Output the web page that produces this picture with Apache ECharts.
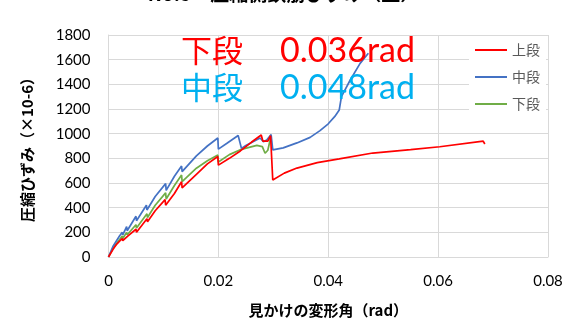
<!DOCTYPE html>
<html>
<head>
<meta charset="utf-8">
<script src="https://cdn.jsdelivr.net/npm/echarts@6/dist/echarts.min.js"></script>
<style>
  html, body { margin: 0; padding: 0; background: #fff; }
  #chart { width: 567px; height: 324px; }
</style>
</head>
<body>
<div id="chart"></div>
<script>
// 見かけの変形角 (rad) と圧縮ひずみ (×10-6) の組
const upperTier = [
  [0, 0], [0.0008, 60], [0.0015, 105], [0.0025, 150], [0.0026, 132],
  [0.0035, 170], [0.0050, 225], [0.0051, 200], [0.0070, 310], [0.0071, 285],
  [0.0085, 375], [0.0103, 465], [0.0104, 420], [0.0120, 515], [0.0133, 610],
  [0.0134, 560], [0.0160, 670], [0.0180, 755], [0.0199, 815], [0.0200, 745],
  [0.0220, 800], [0.0240, 860], [0.0260, 930], [0.0278, 989], [0.0281, 940],
  [0.0290, 940], [0.0295, 983], [0.0299, 624], [0.0320, 680], [0.0343, 721],
  [0.0380, 765], [0.0420, 795], [0.0481, 843], [0.0550, 870], [0.0603, 894],
  [0.0682, 940], [0.0685, 916]
];
const middleTier = [
  [0, 0], [0.0008, 85], [0.0020, 170], [0.0025, 200], [0.0026, 180],
  [0.0033, 246], [0.0034, 213], [0.0050, 330], [0.0051, 294], [0.0069, 420],
  [0.0070, 381], [0.0085, 490], [0.0104, 595], [0.0105, 540], [0.0120, 655],
  [0.0133, 738], [0.0134, 692], [0.0160, 820], [0.0180, 900], [0.0199, 965],
  [0.0200, 875], [0.0215, 920], [0.0236, 985], [0.0242, 881], [0.0250, 905],
  [0.0276, 965], [0.0282, 935], [0.0288, 949], [0.0296, 993], [0.0299, 868],
  [0.0318, 885], [0.0343, 925], [0.0367, 970], [0.0385, 1025], [0.0400, 1080],
  [0.0412, 1140], [0.0420, 1192], [0.0424, 1300], [0.0440, 1435], [0.0458, 1570],
  [0.0473, 1652]
];
const lowerTier = [
  [0, 0], [0.0008, 70], [0.0025, 170], [0.0026, 150], [0.0033, 200],
  [0.0034, 180], [0.0050, 262], [0.0051, 235], [0.0070, 350], [0.0071, 320],
  [0.0085, 420], [0.0104, 520], [0.0105, 470], [0.0120, 580], [0.0133, 665],
  [0.0134, 611], [0.0160, 720], [0.0180, 780], [0.0199, 827], [0.0200, 770],
  [0.0220, 830], [0.0242, 873], [0.0270, 905], [0.0280, 895], [0.0285, 841],
  [0.0290, 866], [0.0296, 985]
];
const seriesNames = ['上段', '中段', '下段'];
const seriesColors = ['#FF0000', '#4472C4', '#70AD47'];
const xTicks = { min: 0, max: 0.08, interval: 0.02 };
const yTicks = { min: 0, max: 1800, interval: 200 };

const numFont = 'Lato, "Noto Sans CJK JP", sans-serif';
const jpFont = '"Noto Sans CJK JP", sans-serif';

const chart = echarts.init(document.getElementById('chart'), null, { renderer: 'canvas' });
const dataSets = [upperTier, middleTier, lowerTier];

chart.setOption({
  animation: false,
  backgroundColor: '#fff',
  grid: { left: 108.5, right: 19, top: 35, bottom: 67, containLabel: false },
  xAxis: {
    type: 'value', min: xTicks.min, max: xTicks.max, interval: xTicks.interval,
    name: '見かけの変形角（rad）', nameLocation: 'middle', nameGap: 46,
    nameTextStyle: { fontFamily: jpFont, fontSize: 15, fontWeight: 'bold', color: '#000' },
    axisLine: { show: true, lineStyle: { color: '#d9d9d9', width: 1 } },
    axisTick: { show: false },
    axisLabel: { fontFamily: numFont, fontSize: 15, color: '#000', margin: 17,
      formatter: v => String(Math.round(v * 100) / 100) },
    splitLine: { show: true, lineStyle: { color: '#d9d9d9', width: 1 } }
  },
  yAxis: {
    type: 'value', min: yTicks.min, max: yTicks.max, interval: yTicks.interval,
    name: '圧縮ひずみ（×10-6）', nameLocation: 'middle', nameGap: 74, nameRotate: 90,
    nameTextStyle: { fontFamily: jpFont, fontSize: 15, fontWeight: 'bold', color: '#000' },
    axisLine: { show: true, lineStyle: { color: '#d9d9d9', width: 1 } },
    axisTick: { show: false },
    axisLabel: { fontFamily: numFont, fontSize: 15, color: '#000', margin: 18,
      formatter: v => String(v) },
    splitLine: { show: true, lineStyle: { color: '#d9d9d9', width: 1 } }
  },
  legend: {
    show: true, orient: 'vertical', right: 21, top: 37, width: 78,
    padding: [6, 6, 6, 6], backgroundColor: '#fff', itemGap: 13,
    itemWidth: 32, itemHeight: 2, icon: 'rect',
    textStyle: { fontFamily: jpFont, fontSize: 14, color: '#595959' },
    data: seriesNames
  },
  graphic: [
    { type: 'text', left: 'center', top: -16,
      style: { text: 'No.5　圧縮側鉄筋ひずみ（上）', fontFamily: jpFont, fontSize: 19,
        fontWeight: 'bold', fill: '#000' } },
    { type: 'text', left: 181, top: 35, z: 100,
      style: { text: '下段', fontFamily: jpFont, fontSize: 31, fill: '#FF0000' } },
    { type: 'text', left: 280, top: 34, z: 100,
      style: { text: '0.036rad', fontFamily: numFont, fontSize: 34, fill: '#FF0000' } },
    { type: 'text', left: 181, top: 72, z: 100,
      style: { text: '中段', fontFamily: jpFont, fontSize: 31, fill: '#00B0F0' } },
    { type: 'text', left: 280, top: 71, z: 100,
      style: { text: '0.048rad', fontFamily: numFont, fontSize: 34, fill: '#00B0F0' } }
  ],
  series: dataSets.map((d, i) => ({
    name: seriesNames[i], type: 'line', data: d, showSymbol: false, symbol: 'none',
    lineStyle: { color: seriesColors[i], width: 1.7 }, itemStyle: { color: seriesColors[i] },
    z: 3 - i
  }))
});
</script>
</body>
</html>
